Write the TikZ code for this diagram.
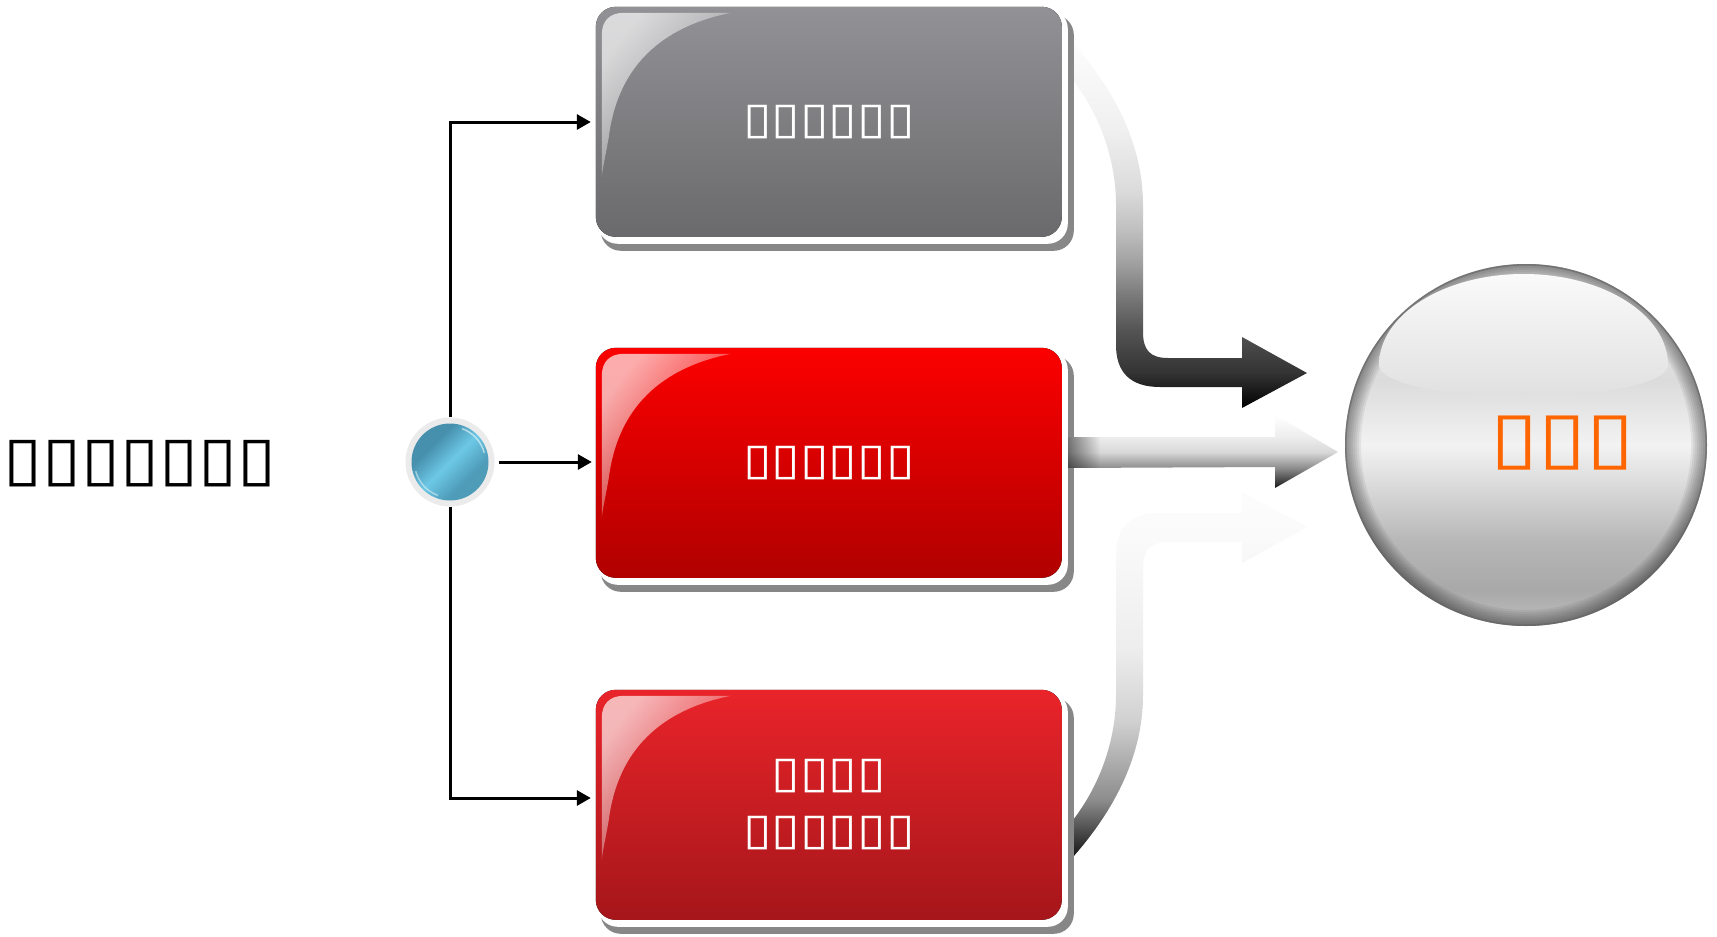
\documentclass[tikz,border=0pt]{standalone}
\usepackage{fontspec}
\newfontfamily\djvbx[FakeStretch=1.18]{DejaVu Sans}
\newfontfamily\djvl[FakeStretch=1.16]{DejaVu Sans}
\newfontfamily\djvs[FakeStretch=1.23]{DejaVu Sans}
\usetikzlibrary{arrows.meta,backgrounds,fadings}

\definecolor{shadowgray}{HTML}{878787}
\definecolor{ringgray}{HTML}{EBEBEB}
\definecolor{gtop}{HTML}{929296}
\definecolor{gbot}{HTML}{6A6A6C}
\definecolor{rtwotop}{HTML}{FC0000}
\definecolor{rtwobot}{HTML}{B00000}
\definecolor{rthrtop}{HTML}{E9242A}
\definecolor{rthrbot}{HTML}{A5161A}
\definecolor{orangetxt}{HTML}{FF6600}
\definecolor{bluea}{HTML}{4790AD}
\definecolor{blueb}{HTML}{6CC8E6}
\definecolor{bluec}{HTML}{4E9CB8}

\pgfdeclareverticalshading{toparrow}{100bp}{color(0bp)=(black); color(25bp)=(black); color(29.8bp)=(black!80); color(35.7bp)=(black!67); color(40.2bp)=(black!53); color(44.9bp)=(black!37); color(49.4bp)=(black!25); color(54.9bp)=(black!14); color(63.1bp)=(black!6); color(75bp)=(black!1); color(100bp)=(black!1)}
\pgfdeclareverticalshading{botarrow}{100bp}{color(0bp)=(black!92); color(25bp)=(black!92); color(32.8bp)=(black!45); color(43.8bp)=(black!18); color(53.4bp)=(black!7); color(68.4bp)=(black!2); color(75bp)=(black!1); color(100bp)=(black!1)}
\pgfdeclareverticalshading{midarrow}{100bp}{color(0bp)=(black!90); color(25bp)=(black!90); color(38.7bp)=(black!45); color(49.7bp)=(black!15); color(59.9bp)=(black!7); color(75bp)=(white); color(100bp)=(white)}
\pgfdeclareverticalshading{sphbase}{100bp}{color(0bp)=(black!25); color(25bp)=(black!25); color(30bp)=(black!34); color(36.9bp)=(black!28); color(45.2bp)=(black!13); color(50bp)=(black!5); color(59bp)=(black!14); color(70bp)=(black!9); color(75bp)=(black!12); color(100bp)=(black!12)}
\pgfdeclareverticalshading{domeshade}{100bp}{color(0bp)=(black!12); color(25bp)=(black!12); color(75bp)=(black!2); color(100bp)=(black!2)}
\pgfdeclareverticalshading{bluesh}{100bp}{color(0bp)=(bluec); color(34bp)=(bluec); color(50bp)=(blueb); color(66bp)=(bluea); color(100bp)=(bluea)}

\tikzfading[name=glossfade, left color=transparent!25, middle color=transparent!100, right color=transparent!100]
\tikzfading[name=fadeR, left color=transparent!0, right color=transparent!100]

\newcommand\mybxfont{\djvbx\fontsize{44}{57}\selectfont}
\newcommand\mylfont{\djvl\fontsize{61}{70}\selectfont}
\newcommand\mysphfont{\djvs\fontsize{71}{80}\selectfont}

\newcommand\glossybox[3]{%
  \begin{scope}[shift={(#1.north west)}]
    \fill[shadowgray, rounded corners=20pt] (5,8) rectangle (478,244);
    \fill[white, rounded corners=20pt] (2,2) rectangle (472,237);
    \fill[top color=#2, bottom color=#3, rounded corners=20pt] (0,0) rectangle (466,230);
    \fill[white, opacity=.9, path fading=glossfade, fading angle=-45] (6,170) -- (6,28) .. controls (6,14) and (14,6) .. (28,6) -- (135,6) .. controls (65,20) and (22,60) .. (13,130) .. controls (10,148) and (7,160) .. (6,170) -- cycle;
  \end{scope}}

\begin{document}
\begin{tikzpicture}[x=1pt,y=-1pt,
  conn/.style={line width=3pt, -{Triangle[length=14pt,width=15pt]}},
  boxn/.style={minimum width=466pt, minimum height=230pt, inner sep=0pt, text=white, align=center, font=\mybxfont}]
\useasboundingbox (0,0) rectangle (1717,937);

\node[font=\mylfont, inner sep=0pt] (lbl) at (140,464) {▯▯▯▯▯▯▯};

\node[circle, fill=ringgray, minimum size=89pt, inner sep=0pt] (dot) at (450,462) {};
\shade[shading=bluesh, shading angle=45] (dot.center) circle (38.5);
\draw[white, opacity=.55, line width=1.5pt] ([shift={(-70:35.5)}]dot.center) arc[start angle=-70, end angle=-15, radius=35.5];
\draw[white, opacity=.45, line width=1.5pt] ([shift={(110:35.5)}]dot.center) arc[start angle=110, end angle=165, radius=35.5];

\node[boxn] (b1) at (829,122) {▯▯▯▯▯▯};
\node[boxn] (b2) at (829,463) {▯▯▯▯▯▯};
\node[boxn] (b3) at (829,805) {▯▯▯▯\\▯▯▯▯▯▯};

\begin{scope}[on background layer]
  \fill[white] (0,0) rectangle (1717,937);
  \shade[shading=toparrow] (1073,43) .. controls (1110,85) and (1143,140) .. (1143,205) -- (1143,332) .. controls (1143,350) and (1150,358) .. (1168,358) -- (1242,358) -- (1242,337) -- (1307,373) -- (1242,408) -- (1242,387) -- (1160,387) .. controls (1130,387) and (1116,372) .. (1116,345) -- (1116,205) .. controls (1116,160) and (1100,115) .. (1073,80) -- cycle;
  \shade[shading=botarrow] (1073,857) .. controls (1110,815) and (1143,760) .. (1143,695) -- (1143,568) .. controls (1143,550) and (1150,542) .. (1168,542) -- (1242,542) -- (1242,563) -- (1307,527) -- (1242,492) -- (1242,513) -- (1160,513) .. controls (1130,513) and (1116,528) .. (1116,555) -- (1116,695) .. controls (1116,740) and (1100,785) .. (1073,820) -- cycle;
  \glossybox{b1}{gtop}{gbot}
  \glossybox{b2}{rtwotop}{rtwobot}
  \glossybox{b3}{rthrtop}{rthrbot}
\end{scope}

\shade[shading=midarrow] (1068,437) -- (1275,437) -- (1275,415) -- (1338,452) -- (1275,488) -- (1275,467) -- (1068,468) -- cycle;
\fill[black, opacity=.5, path fading=fadeR] (1068,437) rectangle (1100,468);

\node[circle, minimum size=362pt, inner sep=0pt] (sph) at (1526,445) {};
\shade[shading=sphbase] (sph.center) circle (181);
\foreach \r in {165,167,...,179} {\fill[black, opacity=0.06, even odd rule] (sph.center) circle (181) circle (\r);}
\draw[black!60, opacity=.6, line width=1.5pt] (sph.center) circle (180.2);
\shade[shading=domeshade] (1379,365) arc[start angle=180, end angle=360, x radius=144.5, y radius=91] arc[start angle=0, end angle=180, x radius=144.5, y radius=32] -- cycle;
\node[font=\mysphfont, text=orangetxt, inner sep=0pt] (sphtext) at (1563,443) {▯▯▯};

\draw[conn, shorten >=5pt] (dot.north) |- (b1.west);
\draw[conn, shorten <=4.5pt, shorten >=4pt] (dot.east) -- (dot.east -| b2.west);
\draw[conn, shorten >=5pt] (dot.south) |- ([yshift=7pt]b3.west);
\end{tikzpicture}
\end{document}
